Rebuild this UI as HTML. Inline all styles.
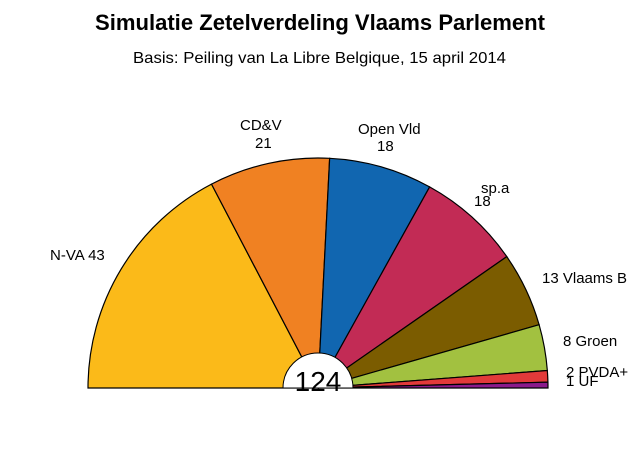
<!DOCTYPE html>
<html><head><meta charset="utf-8"><style>
body{margin:0;background:#fff;}
svg{display:block;font-family:"Liberation Sans",sans-serif;}
</style></head><body>
<svg id="c" width="638" height="450">
<text x="95" y="30" font-size="22" font-weight="bold" textLength="450" lengthAdjust="spacingAndGlyphs">Simulatie Zetelverdeling Vlaams Parlement</text>
<text x="133" y="63" font-size="16" textLength="373" lengthAdjust="spacingAndGlyphs">Basis: Peiling van La Libre Belgique, 15 april 2014</text>
<g id="slices"></g>
<path d="M283,388 A35,35 0 0 1 353,388 Z" fill="#fff" stroke="#000" stroke-width="1"/>
<rect x="283" y="389" width="70" height="20" fill="#fff"/>
<text x="318" y="391" text-anchor="middle" font-size="28">124</text>
<g font-size="15" id="labels">
<text x="50" y="260">N-VA 43</text>
<text x="240" y="130">CD&amp;V</text>
<text x="255" y="148">21</text>
<text x="358" y="134">Open Vld</text>
<text x="377" y="151">18</text>
<text x="481" y="193">sp.a</text>
<text x="474" y="206">18</text>
<text x="542" y="283">13 Vlaams B</text>
<text x="563" y="346">8 Groen</text>
<text x="566" y="377">2 PVDA+</text>
<text x="566" y="386">1 UF</text>
</g>
</svg>
<script>
const parties=["N-VA","CD&V","Open Vld","sp.a","Vlaams Belang","Groen","PVDA+","UF"];
const seats=[43,21,18,18,13,8,2,1];
const colors=["#fbba19","#f08122","#1166b0","#c22b55","#7b5c00","#a2c140","#e23a3a","#8b1a8b"];
const cx=318,cy=388,R=230;
const total=seats.reduce((a,b)=>a+b,0);
const g=document.getElementById('slices');
let cum=0;
function pt(a){return [cx+R*Math.cos(a),cy-R*Math.sin(a)];}
seats.forEach((s,i)=>{
 const a0=Math.PI*(1-cum/total);cum+=s;const a1=Math.PI*(1-cum/total);
 const p0=pt(a0),p1=pt(a1);
 const p=document.createElementNS('http://www.w3.org/2000/svg','path');
 p.setAttribute('d',`M${cx},${cy}L${p0[0]},${p0[1]}A${R},${R} 0 0 1 ${p1[0]},${p1[1]}Z`);
 p.setAttribute('fill',colors[i]);p.setAttribute('stroke','#000');p.setAttribute('stroke-width','1.2');
 
 
 g.appendChild(p);
});
</script>
</body></html>
